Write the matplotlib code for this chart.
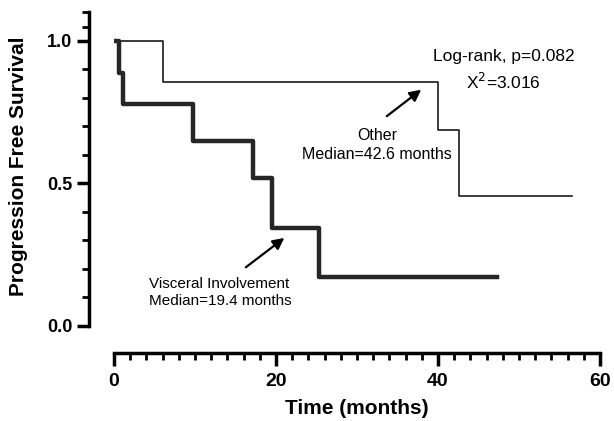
import numpy as np
import matplotlib.pyplot as plt

plt.rcParams['font.family'] = ['Liberation Sans', 'DejaVu Sans']

# Kaplan-Meier steps
other_t = [0, 6.1, 40.0, 42.6, 56.6]
other_s = [1.0, 0.857, 0.686, 0.457, 0.457]

visc_t = [0, 0.65, 1.15, 9.7, 17.2, 19.5, 25.3, 47.3]
visc_s = [1.0, 0.889, 0.778, 0.648, 0.518, 0.345, 0.173, 0.173]

x_ticks = [0, 20, 40, 60]
y_ticks = [0.0, 0.5, 1.0]
y_minor = [0.1, 0.2, 0.3, 0.4, 0.6, 0.7, 0.8, 0.9, 1.05, 1.1]

fig = plt.figure(figsize=(6.14, 4.21), dpi=100)
ax = fig.add_axes([0.1857, 0.2257, 0.7915, 0.7447])

ax.step(other_t, other_s, where='post', color='#1a1a1a', lw=1.2)
ax.step(visc_t, visc_s, where='post', color='#262626', lw=3.2)

ax.set_xlim(0, 60)
ax.set_ylim(0, 1.1)

for s in ['top', 'right']:
    ax.spines[s].set_visible(False)
ax.spines['left'].set_position(('outward', 18))
ax.spines['bottom'].set_position(('outward', 19.5))
ax.spines['left'].set_linewidth(2.5)
ax.spines['bottom'].set_linewidth(2.5)
ax.spines['left'].set_bounds(0, 1.1)
ax.spines['bottom'].set_bounds(0, 60)

ax.set_xticks(x_ticks)
ax.set_xticks(np.arange(0, 61, 2), minor=True)
ax.set_yticks(y_ticks)
ax.set_yticks(y_minor, minor=True)
ax.set_yticklabels(['0.0', '0.5', '1.0'])
ax.tick_params(which='major', length=9, width=2.5)
ax.tick_params(which='minor', length=5, width=2.0)
ax.tick_params(axis='x', which='major', labelsize=14, pad=5)
ax.tick_params(axis='y', which='major', labelsize=13, pad=3)
for lab in ax.get_xticklabels() + ax.get_yticklabels():
    lab.set_fontweight('bold')

ax.set_xlabel('Time (months)', fontsize=15, fontweight='bold', labelpad=6.5)
ax.set_ylabel('Progression Free Survival', fontsize=15, fontweight='bold')
ax.yaxis.set_label_coords(-0.176, 0.51)

ax.text(48.1, 0.944, 'Log-rank, p=0.082', ha='center', va='center', fontsize=12.5)
ax.text(48.1, 0.857, r'X$^2$=3.016', ha='center', va='center', fontsize=12.5)

ax.annotate('', xy=(38.2, 0.835), xytext=(33.4, 0.73),
            arrowprops=dict(arrowstyle='-|>', color='black', lw=1.6, mutation_scale=17))
ax.text(32.5, 0.67, 'Other', ha='center', va='center', fontsize=11.5)
ax.text(32.5, 0.60, 'Median=42.6 months', ha='center', va='center', fontsize=11.5)

ax.annotate('', xy=(21.3, 0.315), xytext=(16.0, 0.2),
            arrowprops=dict(arrowstyle='-|>', color='black', lw=1.6, mutation_scale=17))
ax.text(4.3, 0.149, 'Visceral Involvement', ha='left', va='center', fontsize=11)
ax.text(4.3, 0.088, 'Median=19.4 months', ha='left', va='center', fontsize=11)

fig.savefig('out.png', dpi=100)
